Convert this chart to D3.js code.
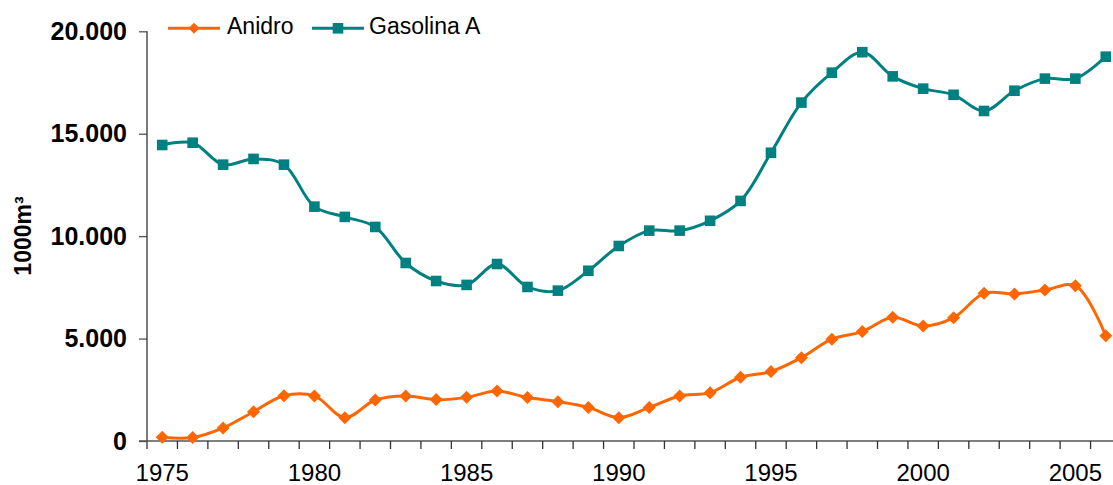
<!DOCTYPE html>
<html>
<head>
<meta charset="utf-8">
<script src="https://cdn.jsdelivr.net/npm/d3@7"></script>
<style>
html,body{margin:0;padding:0;background:#fff;}
svg{display:block;font-family:"Liberation Sans",Arial,sans-serif;}
</style>
</head>
<body>
<svg id="chart" width="1113" height="485"></svg>
<script>
const years = d3.range(1975, 2007);
const yTicks = [0, 5000, 10000, 15000, 20000];
const yTickLabels = ["0", "5.000", "10.000", "15.000", "20.000"];
const xTickYears = [1975, 1980, 1985, 1990, 1995, 2000, 2005];
const seriesNames = ["Anidro", "Gasolina A"];
const anidro = [180, 170, 640, 1430, 2210, 2200, 1140, 2000, 2200, 2020, 2130, 2440, 2120, 1920,
  1640, 1140, 1640, 2200, 2360, 3110, 3390, 4070, 4970, 5340, 6040, 5610, 6020, 7210, 7180, 7370, 7580, 5140];
const gasolinaA = [14450, 14560, 13490, 13770, 13490, 11440, 10940, 10450, 8690, 7810, 7620, 8640, 7520, 7340,
  8310, 9520, 10270, 10270, 10750, 11720, 14070, 16520, 17980, 18980, 17800, 17200, 16900, 16110, 17100, 17690, 17690, 18760];
const colors = ["#FF6600", "#008080"];

const svg = d3.select("#chart");
const x = d3.scaleBand().domain(years).range([147, 1121]).padding(0);
const y = d3.scaleLinear().domain([0, 20000]).range([441, 31.3]);

// Y axis
const yAxis = d3.axisLeft(y).tickValues(yTicks).tickFormat((d, i) => yTickLabels[i]).tickSize(8).tickPadding(12);
const gy = svg.append("g").attr("transform", "translate(147,0)").call(yAxis);
gy.select(".domain").remove();
gy.selectAll(".tick line").attr("stroke", "#555").attr("stroke-width", 1.3);
gy.selectAll("text").attr("font-size", 25).attr("font-weight", "bold").attr("fill", "#000")
  .attr("font-family", "Liberation Sans, Arial, sans-serif");
svg.append("line").attr("x1", 147).attr("x2", 147).attr("y1", y(20000)).attr("y2", y(0) + 8)
  .attr("stroke", "#333").attr("stroke-width", 1.3);

// X axis
svg.append("line").attr("x1", 139).attr("x2", 1113).attr("y1", y(0)).attr("y2", y(0))
  .attr("stroke", "#555").attr("stroke-width", 1.3);
const boundaries = years.slice(1).map(yr => x(yr)).concat([x(2006) + x.bandwidth()]);
svg.append("g").selectAll("line").data(boundaries).join("line")
  .attr("x1", d => d).attr("x2", d => d).attr("y1", y(0)).attr("y2", y(0) + 8)
  .attr("stroke", "#333").attr("stroke-width", 1.3);
const xAxis = d3.axisBottom(x).tickValues(xTickYears).tickSize(0).tickPadding(23);
const gx = svg.append("g").attr("transform", `translate(0,${y(0)})`).call(xAxis);
gx.select(".domain").remove();
gx.selectAll("text").attr("font-size", 24).attr("fill", "#000")
  .attr("font-family", "Liberation Sans, Arial, sans-serif");

// Y title
svg.append("text").attr("transform", "translate(31,236) rotate(-90)")
  .attr("text-anchor", "middle").attr("font-size", 23).attr("font-weight", "bold").text("1000m³");

// Lines
const cx = yr => x(yr) + x.bandwidth() / 2;
const line = d3.line().x((d, i) => cx(years[i])).y(d => y(d)).curve(d3.curveCatmullRom.alpha(0.5));
const diamond = "M0,-6.5L6.5,0L0,6.5L-6.5,0Z";

svg.append("path").datum(gasolinaA).attr("d", line).attr("fill", "none")
  .attr("stroke", colors[1]).attr("stroke-width", 3);
svg.append("g").selectAll("rect").data(gasolinaA).join("rect")
  .attr("x", (d, i) => cx(years[i]) - 5.3).attr("y", d => y(d) - 5.3)
  .attr("width", 10.6).attr("height", 10.6).attr("fill", colors[1]);

svg.append("path").datum(anidro).attr("d", line).attr("fill", "none")
  .attr("stroke", colors[0]).attr("stroke-width", 3);
svg.append("g").selectAll("path").data(anidro).join("path")
  .attr("d", diamond).attr("transform", (d, i) => `translate(${cx(years[i])},${y(d)})`)
  .attr("fill", colors[0]);

// Legend
const legend = [
  {name: seriesNames[0], color: colors[0], x1: 168, x2: 220, tx: 227, marker: "diamond"},
  {name: seriesNames[1], color: colors[1], x1: 312, x2: 364, tx: 369, marker: "square"}
];
legend.forEach(l => {
  const g = svg.append("g");
  g.append("line").attr("x1", l.x1).attr("x2", l.x2).attr("y1", 28.3).attr("y2", 28.3)
    .attr("stroke", l.color).attr("stroke-width", 3);
  const mx = (l.x1 + l.x2) / 2;
  if (l.marker === "diamond") {
    g.append("path").attr("d", "M0,-5.5L5.5,0L0,5.5L-5.5,0Z").attr("transform", `translate(${mx},28.3)`).attr("fill", l.color);
  } else {
    g.append("rect").attr("x", mx - 5.3).attr("y", 28.3 - 5.3).attr("width", 10.6).attr("height", 10.6).attr("fill", l.color);
  }
  g.append("text").attr("x", l.tx).attr("y", 34).attr("font-size", 23).attr("fill", "#000").text(l.name);
});
</script>
</body>
</html>
